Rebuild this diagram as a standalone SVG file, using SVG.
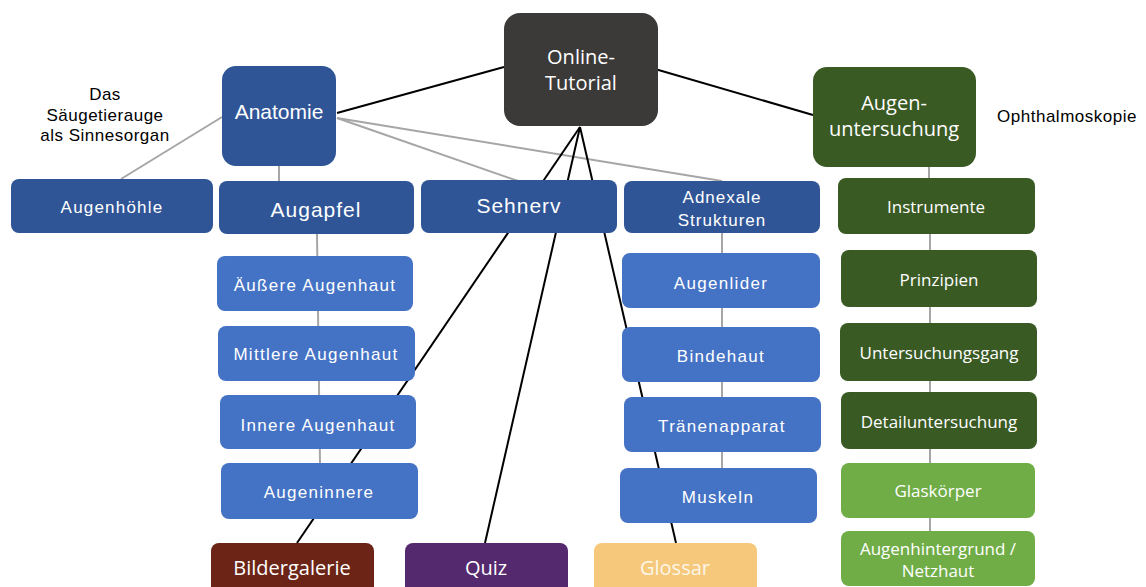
<svg xmlns="http://www.w3.org/2000/svg" width="1146" height="587" viewBox="0 0 1146 587">
<style>
.dk{fill:#2f5597}.bl{fill:#4472c4}.dg{fill:#3a5a24}.lg{fill:#70ad47}
.ar{font-family:"Liberation Sans",Arial,sans-serif;fill:#fff;text-anchor:middle}
.se{font-family:"Open Sans","Noto Sans",sans-serif;fill:#fff;text-anchor:middle}
.lab{font-family:"Liberation Sans",Arial,sans-serif;fill:#000;text-anchor:middle;font-size:17px;letter-spacing:0.5px}
.g{stroke:#a6a6a6;stroke-width:2;fill:none}
.k{stroke:#000;stroke-width:2;fill:none}
</style>
<rect width="1146" height="587" fill="#fff"/>
<g id="connectors">
<line class="g" x1="222" y1="117" x2="121" y2="179"/>
<line class="g" x1="279" y1="166" x2="279" y2="181"/>
<line class="g" x1="337" y1="118" x2="518" y2="181"/>
<line class="g" x1="337" y1="118" x2="722" y2="181"/>
<line class="g" x1="317" y1="234" x2="320" y2="463"/>
<line class="g" x1="722" y1="233" x2="722" y2="468"/>
<line class="g" x1="929" y1="167" x2="929" y2="178"/>
<line class="g" x1="930" y1="234" x2="930" y2="531"/>
<line class="k" x1="504" y1="67" x2="337" y2="113"/>
<line class="k" x1="655" y1="69" x2="813" y2="115"/>
<line class="k" x1="580" y1="127" x2="297" y2="543"/>
<line class="k" x1="580" y1="127" x2="485" y2="543"/>
<line class="k" x1="580" y1="127" x2="676" y2="543"/>
</g>
<g id="label-saeugetier">
<text class="lab" x="105" y="100">Das</text>
<text class="lab" x="105" y="121">Säugetierauge</text>
<text class="lab" x="105" y="141">als Sinnesorgan</text>
</g>
<g id="label-ophthalmoskopie">
<text class="lab" x="1067" y="122">Ophthalmoskopie</text>
</g>
<g id="online-tutorial">
<rect x="504" y="13" width="154" height="113" rx="16" fill="#3b3a39"/>
<text class="se" x="581" y="64" font-size="20">Online-</text>
<text class="se" x="581" y="90" font-size="20">Tutorial</text>
</g>
<g id="anatomie">
<rect class="dk" x="222" y="66" width="114" height="100" rx="14"/>
<text class="ar" x="279" y="119" font-size="21">Anatomie</text>
</g>
<g id="augenuntersuchung">
<rect class="dg" x="813" y="67" width="163" height="100" rx="14"/>
<text class="se" x="894" y="110" font-size="20">Augen-</text>
<text class="se" x="894" y="136" font-size="20">untersuchung</text>
</g>
<g id="augenhoehle">
<rect class="dk" x="11" y="179" width="202" height="54" rx="8"/>
<text class="ar" x="112" y="213" font-size="17" letter-spacing="1.2">Augenhöhle</text>
</g>
<g id="augapfel">
<rect class="dk" x="219" y="181" width="195" height="53" rx="8"/>
<text class="ar" x="316" y="217" font-size="21" letter-spacing="1">Augapfel</text>
</g>
<g id="sehnerv">
<rect class="dk" x="421" y="180" width="196" height="53" rx="8"/>
<text class="ar" x="519" y="213" font-size="21" letter-spacing="1">Sehnerv</text>
</g>
<g id="adnexale">
<rect class="dk" x="624" y="181" width="196" height="52" rx="8"/>
<text class="ar" x="722" y="203" font-size="17" letter-spacing="1">Adnexale</text>
<text class="ar" x="722" y="226" font-size="17" letter-spacing="1">Strukturen</text>
</g>
<g id="instrumente">
<rect class="dg" x="838" y="178" width="197" height="56" rx="8"/>
<text class="se" x="936" y="213" font-size="17">Instrumente</text>
</g>
<g id="aeussere">
<rect class="bl" x="217" y="256" width="196" height="55" rx="8"/>
<text class="ar" x="315" y="291" font-size="17" letter-spacing="1.3">Äußere Augenhaut</text>
</g>
<g id="mittlere">
<rect class="bl" x="218" y="326" width="197" height="55" rx="8"/>
<text class="ar" x="316" y="360" font-size="17" letter-spacing="1.3">Mittlere Augenhaut</text>
</g>
<g id="innere">
<rect class="bl" x="220" y="395" width="196" height="54" rx="8"/>
<text class="ar" x="318" y="431" font-size="17" letter-spacing="1.3">Innere Augenhaut</text>
</g>
<g id="augeninnere">
<rect class="bl" x="221" y="463" width="197" height="56" rx="8"/>
<text class="ar" x="319" y="498" font-size="17" letter-spacing="1.3">Augeninnere</text>
</g>
<g id="augenlider">
<rect class="bl" x="622" y="253" width="198" height="55" rx="8"/>
<text class="ar" x="721" y="289" font-size="17" letter-spacing="1.3">Augenlider</text>
</g>
<g id="bindehaut">
<rect class="bl" x="622" y="327" width="198" height="55" rx="8"/>
<text class="ar" x="721" y="362" font-size="17" letter-spacing="1.3">Bindehaut</text>
</g>
<g id="traenenapparat">
<rect class="bl" x="624" y="397" width="197" height="55" rx="8"/>
<text class="ar" x="722" y="432" font-size="17" letter-spacing="1.3">Tränenapparat</text>
</g>
<g id="muskeln">
<rect class="bl" x="620" y="468" width="197" height="55" rx="8"/>
<text class="ar" x="718" y="503" font-size="17" letter-spacing="1.3">Muskeln</text>
</g>
<g id="prinzipien">
<rect class="dg" x="841" y="250" width="196" height="57" rx="8"/>
<text class="se" x="939" y="286" font-size="17">Prinzipien</text>
</g>
<g id="untersuchungsgang">
<rect class="dg" x="840" y="323" width="197" height="58" rx="8"/>
<text class="se" x="939" y="359" font-size="17">Untersuchungsgang</text>
</g>
<g id="detailuntersuchung">
<rect class="dg" x="841" y="392" width="196" height="57" rx="8"/>
<text class="se" x="939" y="428" font-size="17">Detailuntersuchung</text>
</g>
<g id="glaskoerper">
<rect class="lg" x="841" y="463" width="194" height="55" rx="8"/>
<text class="se" x="938" y="497" font-size="17">Glaskörper</text>
</g>
<g id="augenhintergrund">
<rect class="lg" x="841" y="531" width="194" height="55" rx="8"/>
<text class="se" x="938" y="555" font-size="17">Augenhintergrund /</text>
<text class="se" x="938" y="577" font-size="17">Netzhaut</text>
</g>
<g id="bildergalerie">
<rect x="211" y="543" width="163" height="60" rx="8" fill="#6b2416"/>
<text class="se" x="292" y="575" font-size="20">Bildergalerie</text>
</g>
<g id="quiz">
<rect x="405" y="543" width="163" height="60" rx="8" fill="#54296e"/>
<text class="se" x="486" y="575" font-size="20">Quiz</text>
</g>
<g id="glossar">
<rect x="594" y="543" width="163" height="60" rx="8" fill="#f5c87b"/>
<text class="se" x="675" y="575" font-size="20" fill="#fdf6e8" style="fill:#fdf6e8">Glossar</text>
</g>
</svg>
